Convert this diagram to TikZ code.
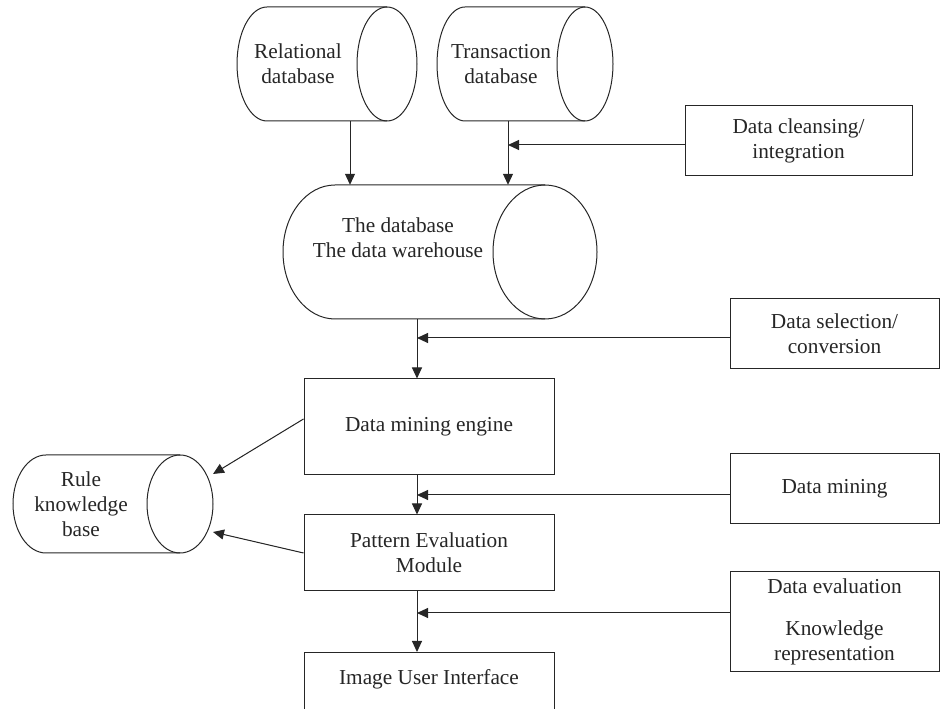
\documentclass[tikz,border=0pt]{standalone}
\usepackage{fontspec}
\setmainfont{Liberation Serif}
\usetikzlibrary{arrows.meta}
\newcommand\hcyl[5]{%
  \pgfmathsetmacro\hcA{#1+#5}%
  \pgfmathsetmacro\hcB{#3-#5}%
  \pgfmathsetmacro\hcR{(#4-#2)/2}%
  \pgfmathsetmacro\hcM{(#4+#2)/2}%
  \draw[outline] (\hcB,#4) -- (\hcA,#4) arc[start angle=90,end angle=270,x radius=#5,y radius=\hcR] -- (\hcB,#2);
  \draw[outline] (\hcB,\hcM) ellipse[x radius=#5,y radius=\hcR];}
\begin{document}
\begin{tikzpicture}[x=1pt,y=1pt,
  every node/.style={font=\fontsize{21.3}{25}\selectfont, align=center, inner sep=0pt, text=black!85},
  outline/.style={line width=1pt, draw=black!85},
  box/.style={draw=black!85, line width=1pt},
  arr/.style={line width=1pt, draw=black!85, fill=black!85, -{Triangle[length=11pt,width=10pt]}}]
\useasboundingbox (0,0) rectangle (948,709);
% cylinders
\hcyl{237}{588}{417}{702}{30}
\node (rel) [minimum width=120, minimum height=114] at (298,645) {Relational\\database};
\hcyl{437}{588}{613}{702}{28}
\node (trans) [minimum width=120, minimum height=114] at (501,645) {Transaction\\database};
\hcyl{283}{390}{597}{524}{52}
\node (dw) [minimum width=210, minimum height=134] at (388,457) {};
\node (dwt) at (398,471) {The database\\The data warehouse};
\hcyl{13}{156}{213}{254}{33}
\node (rule) [minimum width=134, minimum height=98] at (81,205) {Rule\\knowledge\\base};
% boxes
\node (clean) [box, minimum width=227, minimum height=70] at (798.5,568) {Data cleansing/\\integration};
\node (sel) [box, minimum width=209, minimum height=70] at (834.5,375) {Data selection/\\conversion};
\node (dme) [box, minimum width=250, minimum height=96] at (429,282) {Data mining engine};
\node (mine) [box, minimum width=209, minimum height=70] at (834.5,220) {Data mining};
\node (pem) [box, minimum width=250, minimum height=76] at (429,156) {Pattern Evaluation\\Module};
\node (eval) [box, minimum width=209, minimum height=100] at (834.5,87) {Data evaluation\\[17pt]Knowledge\\representation};
\node (iui) [box, minimum width=250, minimum height=74, anchor=north] at (429,57) {};
\node (iuit) at (429,30) {Image User Interface};
% junction coordinates
\coordinate (xa) at (350,0);
\coordinate (xb) at (508,0);
\coordinate (xc) at (417,0);
\coordinate (j1) at (508,564);
\coordinate (j2) at (417,371);
\coordinate (j3) at (417,214);
\coordinate (j4) at (417,96);
\coordinate (d1) at (304,290);
\coordinate (d2) at (304,156);
\coordinate (r1) at (213,235);
\coordinate (r2) at (213,177);
% connectors
\draw[arr] (rel.south -| xa) -- (dw.north -| xa);
\draw[arr] (trans.south -| xb) -- (dw.north -| xb);
\draw[arr] (clean.west |- j1) -- (j1);
\draw[arr] (dw.south -| xc) -- (dme.north -| xc);
\draw[arr] (sel.west |- j2) -- (j2);
\draw[arr] (dme.south -| xc) -- (pem.north -| xc);
\draw[arr] (mine.west |- j3) -- (j3);
\draw[arr] (pem.south -| xc) -- (iui.north -| xc);
\draw[arr] (eval.west |- j4) -- (j4);
\draw[arr] (dme.west |- d1) -- (r1);
\draw[arr] (pem.west |- d2) -- (r2);
\end{tikzpicture}
\end{document}
